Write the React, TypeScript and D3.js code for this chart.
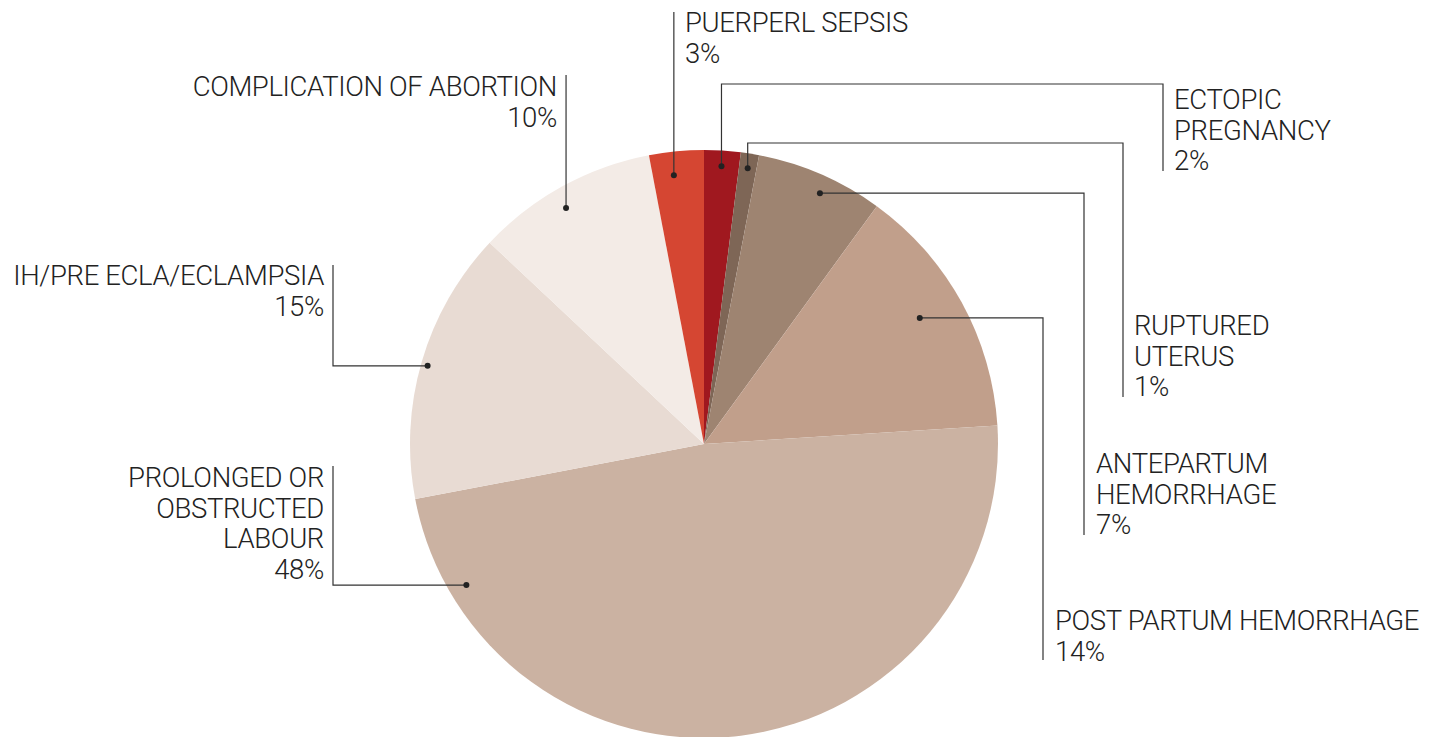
import React from "react";
import * as d3 from "d3";

const categories = [
  "ECTOPIC PREGNANCY",
  "RUPTURED UTERUS",
  "ANTEPARTUM HEMORRHAGE",
  "POST PARTUM HEMORRHAGE",
  "PROLONGED OR OBSTRUCTED LABOUR",
  "IH/PRE ECLA/ECLAMPSIA",
  "COMPLICATION OF ABORTION",
  "PUERPERL SEPSIS",
];
const values = [2, 1, 7, 14, 48, 15, 10, 3];
const labelLines = [
  ["ECTOPIC", "PREGNANCY"],
  ["RUPTURED", "UTERUS"],
  ["ANTEPARTUM", "HEMORRHAGE"],
  ["POST PARTUM HEMORRHAGE"],
  ["PROLONGED OR", "OBSTRUCTED", "LABOUR"],
  ["IH/PRE ECLA/ECLAMPSIA"],
  ["COMPLICATION OF ABORTION"],
  ["PUERPERL SEPSIS"],
];
const colors = ["#a0181f", "#7e6656", "#9e8471", "#c19f8b", "#cbb2a2", "#e8dbd3", "#f3ebe6", "#d54632"];

type Layout = {
  rf: number;
  ang?: number;
  route: (p: [number, number]) => [number, number][];
  tx: number;
  ty: number;
  anchor: "start" | "end";
};
const layout: Layout[] = [
  { rf: 0.947, route: (p) => [p, [p[0], 84], [1163, 84], [1163, 171]], tx: 1174, ty: 109, anchor: "start" },
  { rf: 0.95, route: (p) => [p, [p[0], 143], [1123, 143], [1123, 397]], tx: 1134, ty: 335, anchor: "start" },
  { rf: 0.94, ang: 24.8, route: (p) => [p, [1084, p[1]], [1084, 535]], tx: 1096, ty: 473, anchor: "start" },
  { rf: 0.85, ang: 59.7, route: (p) => [p, [1043, p[1]], [1043, 660]], tx: 1055, ty: 630, anchor: "start" },
  { rf: 0.94, ang: 239.3, route: (p) => [p, [333, p[1]], [333, 466]], tx: 324, ty: 487, anchor: "end" },
  { rf: 0.977, ang: 285.8, route: (p) => [p, [333, p[1]], [333, 265]], tx: 324, ty: 285, anchor: "end" },
  { rf: 0.93, ang: 329.7, route: (p) => [p, [p[0], 75]], tx: 557, ty: 96, anchor: "end" },
  { rf: 0.92, ang: 353.6, route: (p) => [p, [p[0], 12]], tx: 685, ty: 32, anchor: "start" },
];

const W = 1429;
const H = 737;
const cx = 704;
const cy = 444;
const R = 294;
const LINE_H = 30.5;
const FONT = "Roboto, 'Liberation Sans', sans-serif";

export default function App() {
  const pie = d3.pie<number>().sort(null).value((d) => d);
  const arcs = pie(values);
  const arc = d3.arc<d3.PieArcDatum<number>>().innerRadius(0).outerRadius(R);

  return (
    <svg width={W} height={H} style={{ position: "absolute", left: 0, top: 0, background: "#fff" }}>
      <g transform={`translate(${cx},${cy})`}>
        {arcs.map((a, i) => (
          <path key={i} d={arc(a) || ""} fill={colors[i]} />
        ))}
      </g>
      {arcs.map((a, i) => {
        const L = layout[i];
        const angRad = L.ang !== undefined ? (L.ang * Math.PI) / 180 : (a.startAngle + a.endAngle) / 2;
        const r = R * L.rf;
        const p: [number, number] = [cx + r * Math.sin(angRad), cy - r * Math.cos(angRad)];
        const pts = L.route(p);
        const lines = [...labelLines[i], `${values[i]}%`];
        return (
          <g key={categories[i]}>
            <path d={d3.line()(pts) || ""} fill="none" stroke="#333" strokeWidth={1.2} />
            <circle cx={p[0]} cy={p[1]} r={3} fill="#222" />
            <text
              x={L.tx}
              y={L.ty}
              textAnchor={L.anchor}
              fontFamily={FONT}
              fontWeight={300}
              fontSize={27.5}
              letterSpacing={-0.35}
              fill="#222"
            >
              {lines.map((t, j) => (
                <tspan key={j} x={L.tx} y={L.ty + j * LINE_H}>
                  {t}
                </tspan>
              ))}
            </text>
          </g>
        );
      })}
    </svg>
  );
}
